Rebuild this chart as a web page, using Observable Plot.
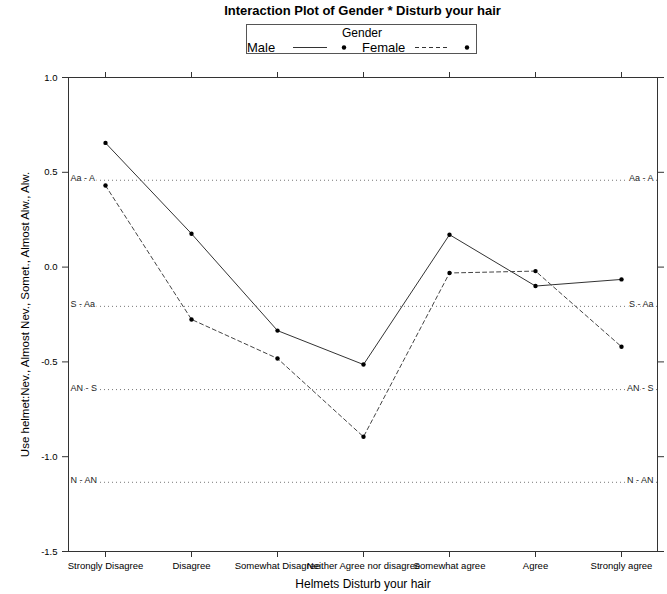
<!DOCTYPE html>
<html>
<head>
<meta charset="utf-8">
<script src="https://cdn.jsdelivr.net/npm/d3@7"></script>
<script src="https://cdn.jsdelivr.net/npm/@observablehq/plot@0.6"></script>
<style>
  body { margin: 0; background: #fff; }
  #wrap { position: relative; width: 667px; height: 594px; font-family: Arial, "Liberation Sans", sans-serif; }
  #title { position: absolute; left: 68px; width: 589px; top: 3px; text-align: center; font-weight: bold; font-size: 13px; line-height: 16px; color: #000; }
  #legend { position: absolute; left: 246px; top: 24px; }
  #plot { position: absolute; left: 0; top: 60px; }
</style>
</head>
<body>
<div id="wrap">
  <div id="title"></div>
  <div id="legend"></div>
  <div id="plot"></div>
</div>
<script>
const titleText = "Interaction Plot of Gender * Disturb your hair";
const legendTitle = "Gender";
const categories = ["Strongly Disagree", "Disagree", "Somewhat Disagree", "Neither Agree nor disagree", "Somewhat agree", "Agree", "Strongly agree"];
const genders = ["Male", "Female"];
const maleMeans = [0.655, 0.176, -0.335, -0.514, 0.171, -0.100, -0.065];
const femaleMeans = [0.430, -0.276, -0.482, -0.895, -0.031, -0.021, -0.420];
const refLabels = ["Aa - A", "S - Aa", "AN - S", "N - AN"];
const refValues = [0.458, -0.207, -0.646, -1.135];
const yTicks = [-1.5, -1.0, -0.5, 0.0, 0.5, 1.0];
const xLabel = "Helmets Disturb your hair";
const yLabel = "Use helmet:Nev., Almost Nev., Somet., Almost Alw., Alw.";

const data = [];
categories.forEach((c, i) => {
  data.push({cat: c, gender: genders[0], value: maleMeans[i]});
  data.push({cat: c, gender: genders[1], value: femaleMeans[i]});
});
const refs = refLabels.map((l, i) => ({label: l, value: refValues[i]}));

document.getElementById("title").textContent = titleText;

// Legend
const lg = d3.select("#legend").append("svg").attr("width", 232).attr("height", 31)
  .style("font-family", "Arial, 'Liberation Sans', sans-serif");
lg.append("rect").attr("x", 0.5).attr("y", 0.5).attr("width", 230).attr("height", 29)
  .attr("fill", "white").attr("stroke", "#555");
lg.append("text").attr("x", 116).attr("y", 13).attr("text-anchor", "middle").attr("font-size", 12).text(legendTitle);
const legItems = [
  {name: genders[0], tx: 1, lx1: 47, lx2: 81, dot: 98, dash: null},
  {name: genders[1], tx: 116, lx1: 169, lx2: 204, dot: 221, dash: "4,3"}
];
legItems.forEach(it => {
  lg.append("text").attr("x", it.tx).attr("y", 28).attr("font-size", 13).text(it.name);
  lg.append("line").attr("x1", it.lx1).attr("x2", it.lx2).attr("y1", 23.5).attr("y2", 23.5)
    .attr("stroke", "#333").attr("stroke-dasharray", it.dash);
  lg.append("circle").attr("cx", it.dot).attr("cy", 23.5).attr("r", 2.2).attr("fill", "#000");
});

const axisColor = "#333";
const chart = Plot.plot({
  width: 667,
  height: 534,
  marginTop: 17,
  marginBottom: 43,
  marginLeft: 68,
  marginRight: 10,
  style: {fontFamily: "Arial, 'Liberation Sans', sans-serif", fontSize: "9.5px", color: "#000", background: "white"},
  x: {type: "point", domain: categories, padding: 0.417},
  y: {domain: [-1.5, 1.0]},
  marks: [
    Plot.ruleY(refs, {y: "value", stroke: "#777", strokeDasharray: "1,3", strokeWidth: 1}),
    Plot.text(refs, {y: "value", text: "label", frameAnchor: "left", textAnchor: "start", dx: 2, dy: 1, lineAnchor: "bottom", fill: "#222", stroke: "white", strokeWidth: 3, fontSize: 9}),
    Plot.text(refs, {y: "value", text: "label", frameAnchor: "right", textAnchor: "end", dx: -4, dy: 1, lineAnchor: "bottom", fill: "#222", stroke: "white", strokeWidth: 3, fontSize: 9}),
    Plot.line(data.filter(d => d.gender === genders[0]), {x: "cat", y: "value", stroke: "#333", strokeWidth: 1}),
    Plot.line(data.filter(d => d.gender === genders[1]), {x: "cat", y: "value", stroke: "#444", strokeWidth: 1, strokeDasharray: "4,3"}),
    Plot.dot(data, {x: "cat", y: "value", r: 2.2, fill: "#000", stroke: null}),
    Plot.frame({stroke: axisColor}),
    Plot.axisX({anchor: "bottom", tickSize: 6, tickPadding: 5, label: null, stroke: axisColor, fontSize: 9.5}),
    Plot.axisX({anchor: "top", tickSize: 6, tickFormat: () => "", label: null, stroke: axisColor}),
    Plot.axisY({anchor: "left", ticks: yTicks, tickSize: 6, tickPadding: 5, tickFormat: d => d.toFixed(1), label: null, stroke: axisColor, fontSize: 9.5}),
    Plot.axisY({anchor: "right", ticks: yTicks, tickSize: 6, tickFormat: () => "", label: null, stroke: axisColor}),
    Plot.text([xLabel], {text: d => d, frameAnchor: "bottom", dy: 33, lineAnchor: "middle", fontSize: 12, fill: "#000"}),
    Plot.text([yLabel], {text: d => d, frameAnchor: "left", textAnchor: "middle", dx: -43, rotate: -90, lineAnchor: "middle", fontSize: 11.5, fill: "#000"})
  ]
});
document.getElementById("plot").appendChild(chart);
</script>
</body>
</html>
